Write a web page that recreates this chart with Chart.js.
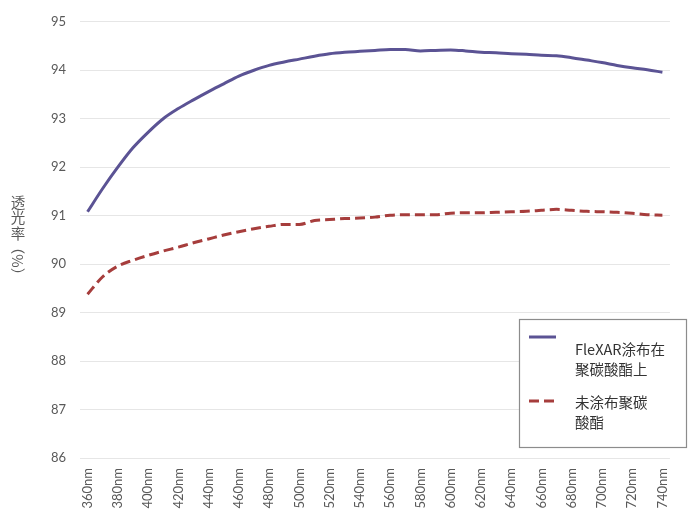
<!DOCTYPE html>
<html>
<head>
<meta charset="utf-8">
<script src="https://cdn.jsdelivr.net/npm/chart.js@4/dist/chart.umd.min.js"></script>
<style>
  html, body { margin: 0; padding: 0; background: #ffffff; overflow: hidden; }
  #wrap { position: relative; width: 688px; height: 525px; }
</style>
</head>
<body>
<div id="wrap"><canvas id="chart" width="688" height="525"></canvas></div>
<script>
// Wavelengths (nm) measured every 10 nm
const wavelengths = [360, 370, 380, 390, 400, 410, 420, 430, 440, 450, 460, 470, 480, 490, 500,
  510, 520, 530, 540, 550, 560, 570, 580, 590, 600, 610, 620, 630, 640, 650, 660, 670, 680,
  690, 700, 710, 720, 730, 740];

// Transmittance (%) – FleXAR coated polycarbonate
const coated = [91.08, 91.56, 92.00, 92.40, 92.72, 93.00, 93.21, 93.39, 93.56, 93.72, 93.88,
  94.00, 94.10, 94.17, 94.23, 94.29, 94.34, 94.37, 94.39, 94.41, 94.43, 94.43, 94.40, 94.41,
  94.42, 94.40, 94.37, 94.36, 94.34, 94.33, 94.31, 94.30, 94.26, 94.21, 94.16, 94.10, 94.05,
  94.01, 93.96];

// Transmittance (%) – uncoated polycarbonate
const uncoated = [89.38, 89.74, 89.96, 90.08, 90.18, 90.27, 90.35, 90.44, 90.52, 90.60, 90.67,
  90.73, 90.78, 90.82, 90.82, 90.90, 90.92, 90.94, 90.95, 90.97, 91.01, 91.02, 91.02, 91.02,
  91.05, 91.06, 91.06, 91.07, 91.08, 91.09, 91.11, 91.13, 91.11, 91.09, 91.08, 91.07, 91.05,
  91.02, 91.01];

const seriesNames = [['FleXAR涂布在', '聚碳酸酯上'], ['未涂布聚碳', '酸酯']];
const yTicks = [86, 87, 88, 89, 90, 91, 92, 93, 94, 95];

const axisColor = '#595959';
const tickFont = { family: 'Lato, "Open Sans", sans-serif', size: 13 };

// Vertical axis title: stacked CJK characters, then rotated "（%）"
const yTitlePlugin = {
  id: 'yTitle',
  afterDraw(chart) {
    const ctx = chart.ctx;
    ctx.save();
    ctx.fillStyle = axisColor;
    ctx.font = '14.5px "Noto Sans CJK SC", sans-serif';
    ctx.textAlign = 'center';
    ctx.textBaseline = 'middle';
    const cx = 18;
    ['透', '光', '率'].forEach((ch, i) => ctx.fillText(ch, cx, 202 + i * 15.5));
    ctx.translate(cx, 261);
    ctx.rotate(Math.PI / 2);
    ctx.fillText('（%）', 0, 0);
    ctx.restore();
  }
};

// Boxed legend with wrapped two-line labels inside the plot
const boxLegendPlugin = {
  id: 'boxLegend',
  afterDraw(chart) {
    const ctx = chart.ctx;
    const x0 = 519, y0 = 319, w = 167, h = 128;
    ctx.save();
    ctx.fillStyle = '#ffffff';
    ctx.fillRect(x0, y0, w, h);
    ctx.strokeStyle = '#8c8c8c';
    ctx.lineWidth = 1.2;
    ctx.strokeRect(x0 + 0.5, y0 + 0.5, w, h);

    const rows = [337, 401];
    chart.data.datasets.forEach((ds, i) => {
      const y = rows[i];
      ctx.beginPath();
      ctx.strokeStyle = ds.borderColor;
      ctx.lineWidth = ds.borderWidth;
      ctx.setLineDash(ds.borderDash || []);
      ctx.moveTo(529, y);
      ctx.lineTo(556, y);
      ctx.stroke();
      ctx.setLineDash([]);
      ctx.fillStyle = '#333333';
      ctx.font = '14.5px "Noto Sans CJK SC", sans-serif';
      ctx.textAlign = 'left';
      ctx.textBaseline = 'middle';
      const lines = seriesNames[i];
      lines.forEach((t, k) => ctx.fillText(t, 575, (i === 0 ? 349 : 402) + k * 20));
    });
    ctx.restore();
  }
};

new Chart(document.getElementById('chart'), {
  type: 'line',
  data: {
    labels: wavelengths.map(v => v + 'nm'),
    datasets: [
      {
        label: seriesNames[0].join(''),
        data: coated,
        borderColor: '#5b5394',
        borderWidth: 3,
        pointRadius: 0,
        tension: 0.4,
        cubicInterpolationMode: 'monotone',
        fill: false
      },
      {
        label: seriesNames[1].join(''),
        data: uncoated,
        borderColor: '#a63d3c',
        borderWidth: 3,
        borderDash: [10, 5],
        pointRadius: 0,
        tension: 0.4,
        cubicInterpolationMode: 'monotone',
        fill: false
      }
    ]
  },
  options: {
    responsive: false,
    animation: false,
    layout: { padding: { top: 21, right: 0, bottom: 0, left: 0 } },
    plugins: {
      legend: { display: false },
      tooltip: { enabled: false }
    },
    scales: {
      x: {
        type: 'category',
        offset: true,
        grid: { display: false, drawTicks: false },
        border: { display: false },
        afterFit(scale) { scale.height = 67; },
        ticks: {
          autoSkip: false,
          maxRotation: 90,
          minRotation: 90,
          padding: 10,
          color: axisColor,
          font: tickFont,
          callback(value, index) {
            return index % 2 === 0 ? this.getLabelForValue(value) : '';
          }
        }
      },
      y: {
        min: yTicks[0],
        max: yTicks[yTicks.length - 1],
        afterBuildTicks(scale) { scale.ticks = yTicks.map(v => ({ value: v })); },
        afterFit(scale) { scale.width = 80; },
        grid: { color: '#e6e6e6', lineWidth: 1, drawTicks: false },
        border: { display: false },
        ticks: {
          padding: 14,
          color: axisColor,
          font: tickFont
        }
      }
    }
  },
  plugins: [yTitlePlugin, boxLegendPlugin]
});
</script>
</body>
</html>
